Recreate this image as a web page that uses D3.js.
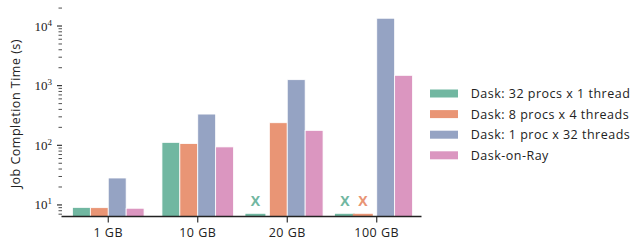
<!DOCTYPE html>
<html>
<head>
<meta charset="utf-8">
<script src="https://cdn.jsdelivr.net/npm/d3@7"></script>
<style>
  body { margin: 0; background: #fff; }
  svg { display: block; }
  .sans { font-family: "Open Sans", "Noto Sans", sans-serif; fill: #222; letter-spacing: 0.5px; }
  .serif { font-family: "Liberation Serif", "DejaVu Serif", serif; fill: #222; }
</style>
</head>
<body>
<div id="chart"></div>
<script>
// data
const datasets = ["1 GB", "10 GB", "20 GB", "100 GB"];
const seriesNames = [
  "Dask: 32 procs x 1 thread",
  "Dask: 8 procs x 4 threads",
  "Dask: 1 proc x 32 threads",
  "Dask-on-Ray"
];
const dask32x1 = [9.1, 112, null, null];
const dask8x4 = [9.0, 107, 239, null];
const dask1x32 = [28.3, 334, 1260, 13500];
const daskOnRay = [8.8, 94, 178, 1490];
const seriesValues = [dask32x1, dask8x4, dask1x32, daskOnRay];
const colors = ["#71b7a1", "#e99575", "#95a3c3", "#db96c0"];

const width = 634, height = 241;
const margin = { left: 63.5, right: 212.5, top: 6.8, bottom: 24.5 };

const svg = d3.select("#chart").append("svg")
  .attr("width", width)
  .attr("height", height);

const x = d3.scaleBand()
  .domain(datasets)
  .range([margin.left, width - margin.right])
  .paddingInner(0.2)
  .paddingOuter(0.1);

const xSub = d3.scaleBand()
  .domain(d3.range(seriesNames.length))
  .range([0, x.bandwidth()]);

const y = d3.scaleLog()
  .domain([6.4, 21000])
  .range([height - margin.bottom, margin.top]);

// bars
seriesValues.forEach((vals, si) => {
  svg.append("g")
    .selectAll("rect")
    .data(datasets.map((d, i) => ({ d, v: vals[i] })).filter(e => e.v != null))
    .join("rect")
    .attr("x", e => x(e.d) + xSub(si))
    .attr("width", xSub.bandwidth())
    .attr("y", e => y(e.v))
    .attr("height", e => y.range()[0] - y(e.v))
    .attr("fill", colors[si])
    .attr("stroke", "#fff")
    .attr("stroke-width", 0.8);
});

// failed runs: a flat stub on the axis and an X above it
const failed = [];
seriesValues.forEach((vals, si) => {
  vals.forEach((v, i) => { if (v == null) failed.push({ d: datasets[i], si }); });
});
const failX = f => x(f.d) + xSub(f.si) + xSub.bandwidth() / 2 - 5;

svg.append("g")
  .selectAll("line")
  .data(failed)
  .join("line")
  .attr("x1", f => failX(f) - 10)
  .attr("x2", f => failX(f) + 10)
  .attr("y1", y.range()[0] - 1.6)
  .attr("y2", y.range()[0] - 1.6)
  .attr("stroke", f => colors[f.si])
  .attr("stroke-width", 2.2);

svg.append("g")
  .selectAll("text")
  .data(failed)
  .join("text")
  .attr("class", "sans")
  .attr("x", failX)
  .attr("y", 206)
  .attr("text-anchor", "middle")
  .attr("font-size", 14)
  .attr("font-weight", "bold")
  .style("fill", f => colors[f.si])
  .style("letter-spacing", "0px")
  .text("X");

// x axis
const xAxis = svg.append("g")
  .attr("transform", `translate(0,${y.range()[0]})`);
xAxis.append("line")
  .attr("x1", margin.left - 2)
  .attr("x2", width - margin.right)
  .attr("stroke", "#222")
  .attr("stroke-width", 1.3);
xAxis.selectAll("line.tick")
  .data(datasets)
  .join("line")
  .attr("class", "tick")
  .attr("x1", d => x(d) + x.bandwidth() / 2)
  .attr("x2", d => x(d) + x.bandwidth() / 2)
  .attr("y1", 0)
  .attr("y2", 6)
  .attr("stroke", "#222")
  .attr("stroke-width", 1.1);
xAxis.selectAll("text")
  .data(datasets)
  .join("text")
  .attr("class", "sans")
  .attr("x", d => x(d) + x.bandwidth() / 2)
  .attr("y", 20.5)
  .attr("text-anchor", "middle")
  .attr("font-size", 12.5)
  .text(d => d);

// y axis (no spine, ticks only)
const yTicks = y.ticks().filter(t => t >= y.domain()[0] && t <= y.domain()[1]);
const isMajor = t => Math.abs(Math.log10(t) - Math.round(Math.log10(t))) < 1e-9;
const axisX = margin.left - 1.5;

svg.append("g")
  .selectAll("line")
  .data(yTicks)
  .join("line")
  .attr("x1", t => axisX - (isMajor(t) ? 5 : 3.5))
  .attr("x2", axisX)
  .attr("y1", t => y(t))
  .attr("y2", t => y(t))
  .attr("stroke", "#222")
  .attr("stroke-width", t => isMajor(t) ? 1.1 : 0.8);

const majorLabels = svg.append("g")
  .selectAll("text")
  .data(yTicks.filter(isMajor))
  .join("text")
  .attr("class", "serif")
  .attr("x", axisX - 10)
  .attr("y", t => y(t) + 4.5)
  .attr("text-anchor", "end")
  .attr("font-size", 13);
majorLabels.append("tspan").text("10");
majorLabels.append("tspan")
  .attr("font-size", 9)
  .attr("dy", -5)
  .text(t => Math.round(Math.log10(t)));

svg.append("text")
  .attr("class", "sans")
  .attr("transform", `translate(20,${(margin.top + y.range()[0]) / 2 + 2}) rotate(-90)`)
  .attr("text-anchor", "middle")
  .attr("font-size", 12.5)
  .text("Job Completion Time (s)");

// legend
const legend = svg.append("g")
  .attr("transform", "translate(430,93.5)");
const rows = legend.selectAll("g")
  .data(seriesNames)
  .join("g")
  .attr("transform", (d, i) => `translate(0,${i * 20.6})`);
rows.append("rect")
  .attr("x", 0)
  .attr("y", -4)
  .attr("width", 28)
  .attr("height", 8)
  .attr("fill", (d, i) => colors[i]);
rows.append("text")
  .attr("class", "sans")
  .attr("x", 40.7)
  .attr("y", 4.5)
  .attr("font-size", 12.5)
  .text(d => d);
</script>
</body>
</html>
